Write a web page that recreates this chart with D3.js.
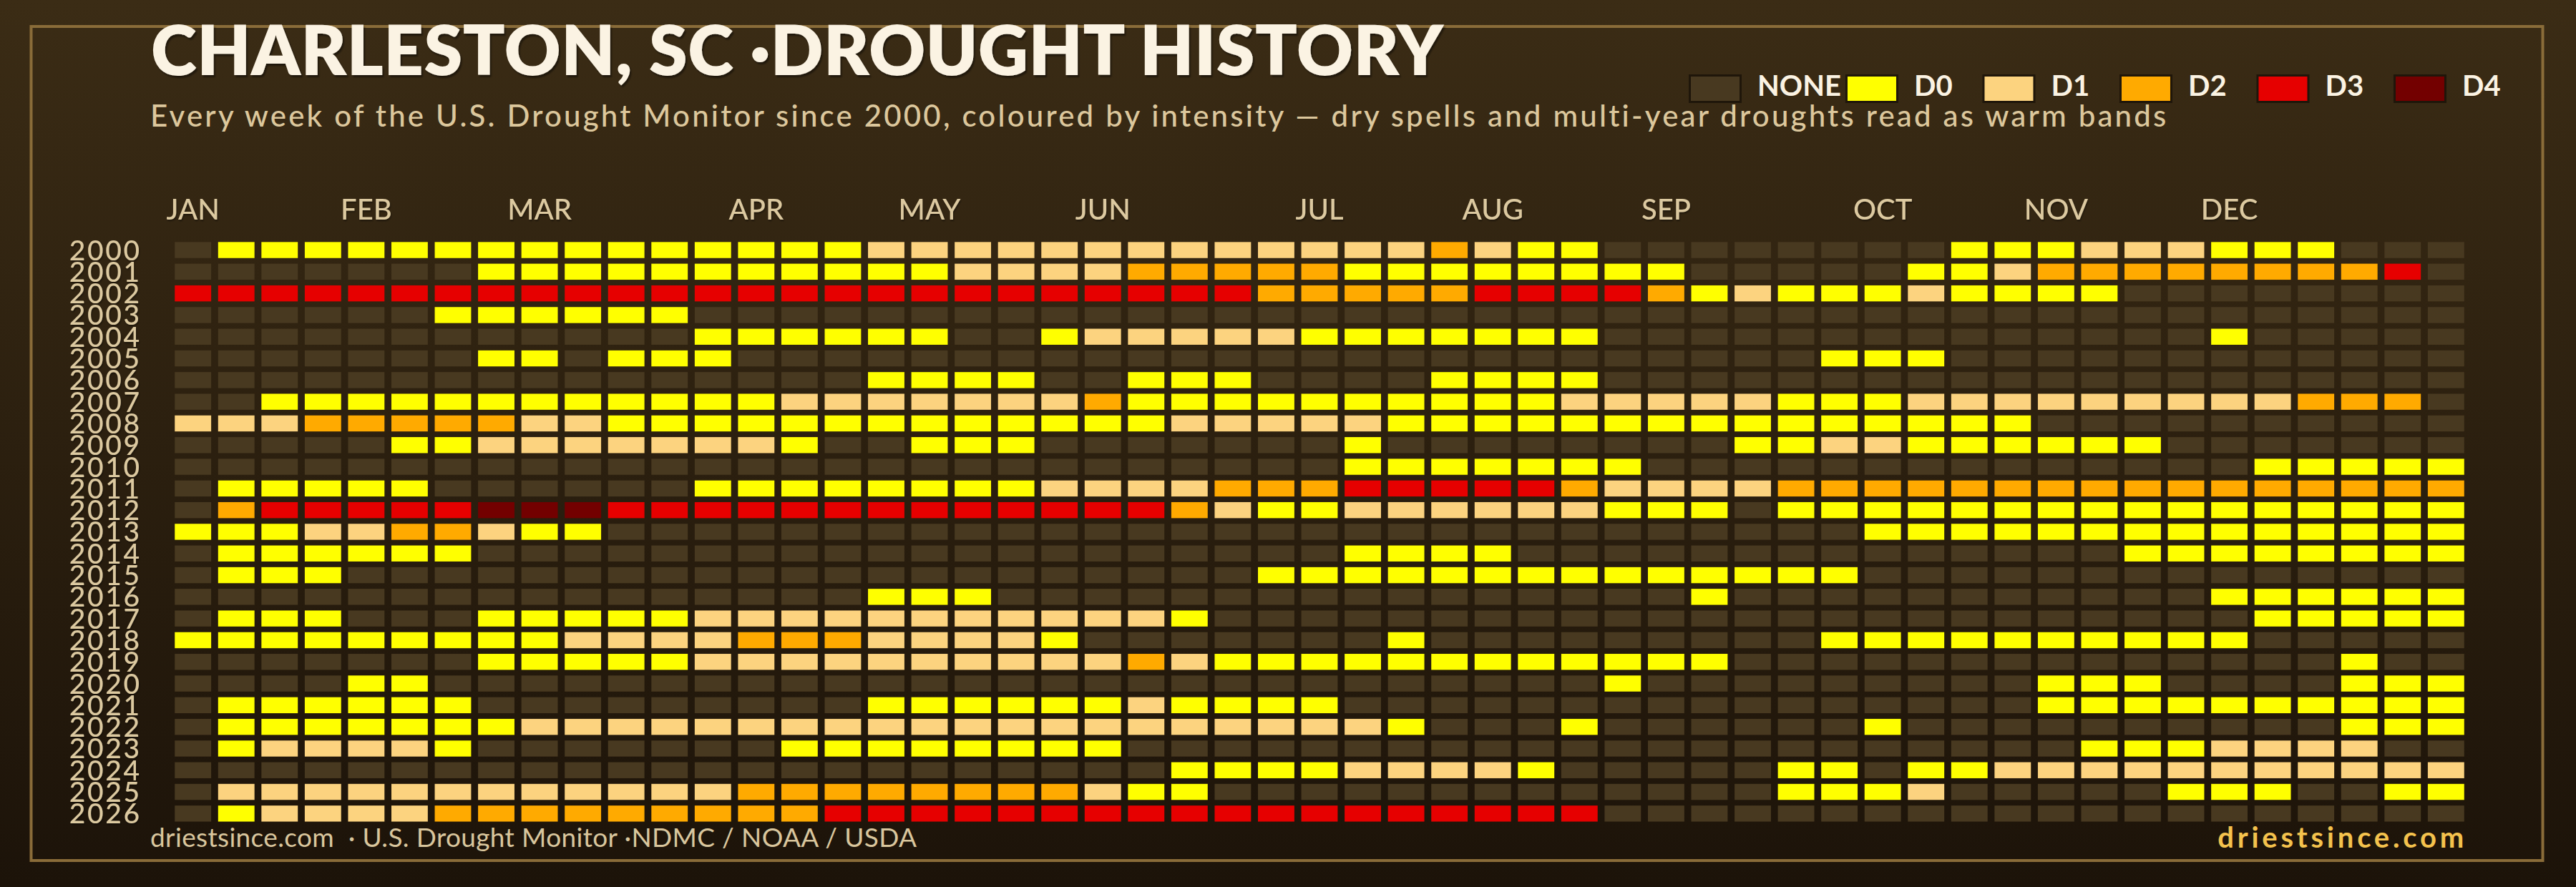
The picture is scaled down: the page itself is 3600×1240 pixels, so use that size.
<!DOCTYPE html>
<html><head><meta charset="utf-8">
<script src="https://cdn.jsdelivr.net/npm/d3@7"></script>
<style>html,body{margin:0;padding:0;background:#1d140a;} svg{display:block}</style>
</head><body>
<svg id="c" width="3600" height="1240"></svg>
<script>
// ---------------- data ----------------
const years = [2000,2001,2002,2003,2004,2005,2006,2007,2008,2009,2010,2011,2012,2013,
               2014,2015,2016,2017,2018,2019,2020,2021,2022,2023,2024,2025,2026];
const levelNames  = ["NONE","D0","D1","D2","D3","D4"];
const levelColors = ["#483920","#ffff00","#fcd37f","#ffaa00","#e60000","#730000"];
const monthLabels = ["JAN","FEB","MAR","APR","MAY","JUN","JUL","AUG","SEP","OCT","NOV","DEC"];
const monthWeeks  = [0,4,8,13,17,21,26,30,34,39,43,47];
// weekly U.S. Drought Monitor category per year (53 weeks, groups of 10)
// "." = no drought, "0".."4" = D0..D4
const weekly = [
  ".000000000 0000001111 1111111112 100....... .000111000 ...", // 2000
  ".......000 0000000011 1122222000 00000..... 0012222222 23.", // 2001
  "3333333333 3333333333 3333322222 3333201000 10000..... ...", // 2002
  "......0000 00........ .......... .......... .......... ...", // 2003
  ".......... ..000000.. 0111110000 000....... .......0.. ...", // 2004
  ".......00. 000....... .......... ........00 0......... ...", // 2005
  ".......... ......0000 ..000....0 000....... .......... ...", // 2006
  "..00000000 0000111111 1200000000 0011111000 1111111112 22.", // 2007
  "1112222211 0000000000 0001111100 0000000000 000....... ...", // 2008
  ".....00111 11110..000 .......0.. ......0011 000000.... ...", // 2009
  ".......... .......... .......000 0000...... ........00 000", // 2010
  ".00000.... ..00000000 1111222333 3321111222 2222222222 222", // 2011
  ".233333444 3333333333 3332100111 111000.000 0000000000 000", // 2012
  "0001122100 .......... .......... .........0 0000000000 000", // 2013
  ".000000... .......... .......000 0......... .....00000 000", // 2014
  ".000...... .......... .....00000 000000000. .......... ...", // 2015
  ".......... ......000. .......... .....0.... .......000 000", // 2016
  ".000...000 0011111111 1110...... .......... ........00 000", // 2017
  "0000000001 1112221111 0.......0. ........00 00000000.. ...", // 2018
  ".......000 0011111111 1121000000 000000.... .......... 0..", // 2019
  "....00.... .......... .......... ...0...... ...000.... 000", // 2020
  ".000000... ......0000 0010000... .......... ...0000000 000", // 2021
  ".000000011 1111111111 111111110. ..0......0 .......... 000", // 2022
  ".011110... ....000000 00........ .......... ....000111 1..", // 2023
  ".......... .......... ...0000111 10.....00. 0011111111 111", // 2024
  ".111111111 1112222222 2100...... .......000 1.....000. .00", // 2025
  ".011112222 2222233333 3333333333 333....... .......... ..."  // 2026
];

const title    = "CHARLESTON, SC ·DROUGHT HISTORY";
const subtitle = "Every week of the U.S. Drought Monitor since 2000, coloured by intensity \u2014 dry spells and multi-year droughts read as warm bands";
const sourceText = "driestsince.com  \u00b7 U.S. Drought Monitor \u00b7NDMC / NOAA / USDA";
const brandText  = "driestsince.com";

// ---------------- helpers ----------------
const FONT = "Lato, 'Open Sans', 'DejaVu Sans', sans-serif";
const W = 3600, H = 1240;
const svg = d3.select("#c");
const defs = svg.append("defs");

const bg = defs.append("linearGradient").attr("id","bg").attr("x1",0).attr("y1",0).attr("x2",0).attr("y2",1);
bg.append("stop").attr("offset","0%").attr("stop-color","#3b2c15");
bg.append("stop").attr("offset","100%").attr("stop-color","#1c1309");

const sh = defs.append("filter").attr("id","sh").attr("x","-5%").attr("y","-20%").attr("width","110%").attr("height","150%");
sh.append("feDropShadow").attr("dx",2).attr("dy",3).attr("stdDeviation",1.2)
  .attr("flood-color","#000").attr("flood-opacity",0.45);
const sh2 = defs.append("filter").attr("id","sh2").attr("x","-10%").attr("y","-20%").attr("width","120%").attr("height","150%");
sh2.append("feDropShadow").attr("dx",1).attr("dy",2).attr("stdDeviation",0.8)
  .attr("flood-color","#000").attr("flood-opacity",0.4);

function fit(sel, target) {
  const n = sel.text().length;
  const w = sel.node().getComputedTextLength();
  sel.attr("letter-spacing", ((target - w) / (n - 1)).toFixed(3));
  return sel;
}

// background + frame
svg.append("rect").attr("width",W).attr("height",H).attr("fill","url(#bg)");
svg.append("rect").attr("x",43.5).attr("y",37).attr("width",3510).attr("height",1166)
  .attr("fill","none").attr("stroke","#8a6c39").attr("stroke-width",4);

// ---------------- scales ----------------
const weeks = d3.range(53);
const x = d3.scaleBand().domain(weeks).range([239.4, 3448.6]).paddingInner(0.16).paddingOuter(0.08);
const y = d3.scaleBand().domain(years).range([334.4, 1152.5]).paddingInner(0.26).paddingOuter(0.13);
const color = d3.scaleOrdinal().domain(d3.range(-1,5)).range(levelColors);

const cells = [];
weekly.forEach((row, i) => {
  const codes = row.replace(/ /g, "").split("");
  codes.forEach((c, w) => cells.push({year: years[i], week: w, level: c === "." ? -1 : +c}));
});

// ---------------- cells ----------------
svg.append("g").selectAll("rect").data(cells).join("rect")
  .attr("x", d => x(d.week)).attr("y", d => y(d.year))
  .attr("width", x.bandwidth()).attr("height", y.bandwidth())
  .attr("fill", d => color(d.level));

// ---------------- axes ----------------
const monthAxis = svg.append("g").attr("transform","translate(0,307)")
  .call(d3.axisTop(x).tickValues(monthWeeks).tickSize(0).tickPadding(0)
        .tickFormat(w => monthLabels[monthWeeks.indexOf(w)]));
monthAxis.select(".domain").remove();
monthAxis.selectAll("text").attr("fill","#dcc9a0").attr("font-family",FONT)
  .attr("font-size",40).attr("font-weight",500).attr("dy",0).attr("filter","url(#sh2)");

const yearAxis = svg.append("g").attr("transform","translate(195,0)")
  .call(d3.axisLeft(y).tickSize(0).tickPadding(0).tickFormat(d3.format("d")));
yearAxis.select(".domain").remove();
yearAxis.selectAll("text").attr("fill","#dcc9a0").attr("font-family",FONT)
  .attr("font-size",39).attr("font-weight",500).attr("dy","0.36em")
  .attr("letter-spacing",2.6).attr("dx",2.6).attr("filter","url(#sh2)");

// ---------------- titles ----------------
const t = svg.append("text").attr("x",211).attr("y",105).text(title)
  .attr("font-family",FONT).attr("font-size",97).attr("font-weight",800)
  .attr("fill","#fbf3e3").attr("filter","url(#sh)");
fit(t, 1806);

const st = svg.append("text").attr("x",210).attr("y",177).text(subtitle)
  .attr("font-family",FONT).attr("font-size",42).attr("font-weight",500)
  .attr("fill","#dcc79c");
fit(st, 2818);

// ---------------- legend ----------------
const lg = svg.append("g");
let lx = 2360;
levelNames.forEach((name, i) => {
  lg.append("rect").attr("x", lx + 1.5).attr("y", 105.5).attr("width", 71).attr("height", 37)
    .attr("fill", levelColors[i]).attr("stroke","#1f160a").attr("stroke-width",3);
  const tx = lg.append("text").attr("x", lx + 96).attr("y", 134).text(name)
    .attr("font-family",FONT).attr("font-size",40).attr("font-weight",700)
    .attr("fill","#fbf3e3");
  const tw = tx.node().getComputedTextLength();
  lx += Math.max(191.5, 96 + tw + 6);
});

// ---------------- footer ----------------
const src = svg.append("text").attr("x",210).attr("y",1184).text(sourceText)
  .style("white-space","pre")
  .attr("font-family",FONT).attr("font-size",37).attr("font-weight",400)
  .attr("fill","#d9c69d");
fit(src, 1071);

const br = svg.append("text").attr("x",3448).attr("y",1185).attr("text-anchor","end").text(brandText)
  .attr("font-family",FONT).attr("font-size",40).attr("font-weight",700)
  .attr("fill","#f4c24d");
fit(br, 344);
</script>
</body></html>
